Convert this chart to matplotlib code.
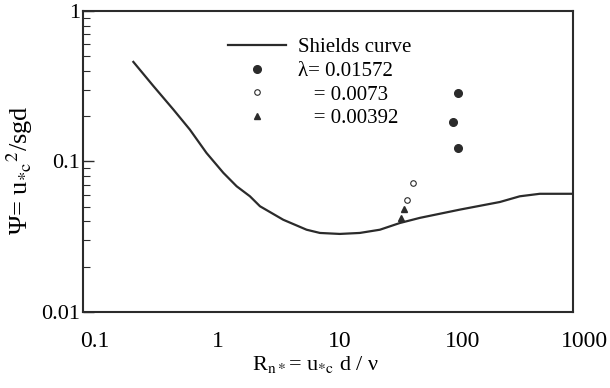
import matplotlib
matplotlib.use("Agg")
import matplotlib.pyplot as plt
from matplotlib.transforms import ScaledTranslation
from matplotlib.ticker import LogLocator, NullFormatter, FixedLocator, FixedFormatter

plt.rcParams['font.family'] = ['Liberation Serif', 'DejaVu Serif']
plt.rcParams['mathtext.fontset'] = 'stix'

# Shields curve
shields_re = [0.258, 0.375, 0.546, 0.746, 1.02, 1.40, 1.80, 2.31, 2.79, 4.32, 6.70, 8.61,
              12.5, 18.2, 26.6, 38.7, 56.4, 120, 254, 369, 538, 1000]
shields_psi = [0.459, 0.318, 0.222, 0.163, 0.114, 0.0841, 0.0684, 0.0587, 0.0504, 0.0410,
               0.0352, 0.0335, 0.0330, 0.0335, 0.0352, 0.0390, 0.0422, 0.0479, 0.0538,
               0.0587, 0.0610, 0.0610]

# data sets
re_01572 = [115, 105, 115]
psi_01572 = [0.284, 0.182, 0.122]
re_0073 = [44, 50]
psi_0073 = [0.0558, 0.0724]
re_00392 = [39.5, 41.7]
psi_00392 = [0.0423, 0.0486]

xticks = [0.1, 1, 10, 100, 1000]
xtick_labels = ['0.1', '1', '10', '100', '1000']
yticks = [0.01, 0.1, 1]
ytick_labels = ['0.01', '0.1', '1']

ink = '#2b2b2b'

fig = plt.figure(figsize=(6.1, 3.88), dpi=100)
ax = fig.add_axes([0.136, 0.196, 0.803, 0.7756])

ax.plot(shields_re, shields_psi, color=ink, lw=1.6, label='Shields curve')
ax.plot(re_01572, psi_01572, 'o', color=ink, ms=5.5, label='λ= 0.01572')
ax.plot(re_0073, psi_0073, 'o', mfc='white', mec=ink, mew=0.8, ms=4, label='   = 0.0073')
ax.plot(re_00392, psi_00392, '^', color=ink, ms=5, label='   = 0.00392')

ax.set_xscale('log')
ax.set_yscale('log')
ax.set_xlim(0.1, 1000)
ax.set_ylim(0.01, 1)

ax.xaxis.set_major_locator(FixedLocator(xticks))
ax.xaxis.set_major_formatter(FixedFormatter(xtick_labels))
ax.xaxis.set_minor_formatter(NullFormatter())
ax.tick_params(axis='x', which='both', length=0, pad=14, labelsize=17)

ax.yaxis.set_major_locator(FixedLocator(yticks))
ax.yaxis.set_major_formatter(FixedFormatter(ytick_labels))
ax.yaxis.set_minor_locator(LogLocator(base=10, subs=range(2, 10)))
ax.yaxis.set_minor_formatter(NullFormatter())
ax.tick_params(axis='y', which='major', direction='in', length=8, width=1, pad=2, labelsize=16, color=ink)
ax.tick_params(axis='y', which='minor', direction='in', length=5, width=0.8, color=ink)

for lbl in ax.get_xticklabels():
    lbl.set_transform(lbl.get_transform() + ScaledTranslation(0.12, 0, fig.dpi_scale_trans))

for sp in ax.spines.values():
    sp.set_linewidth(1.5)
    sp.set_color(ink)

ax.set_xlabel(r'R$_{\mathrm{n*}}$= u$_{\mathrm{*c}}$ d / ν', fontsize=16, labelpad=2)
ax.xaxis.set_label_coords(0.475, -0.14)
ax.set_ylabel(r'Ψ= u$_{*\mathrm{c}}$$^{2}$/sgd', fontsize=19)
ax.yaxis.set_label_coords(-0.098, 0.47)

leg = ax.legend(loc='upper left', bbox_to_anchor=(0.266, 0.96), frameon=False,
                fontsize=15, handlelength=2.8, handletextpad=0.55, labelspacing=0.2,
                borderaxespad=0.3)

fig.savefig('out.png', dpi=100)
